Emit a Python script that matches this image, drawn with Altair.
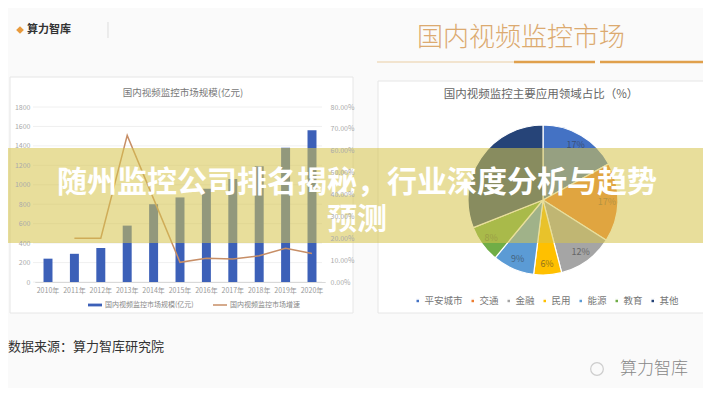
import altair as alt
import pandas as pd

# ---------------- data ----------------
years = ["2010年", "2011年", "2012年", "2013年", "2014年", "2015年",
         "2016年", "2017年", "2018年", "2019年", "2020年"]
market_size = [240, 290, 350, 580, 800, 870, 960, 1060, 1190, 1380, 1560]
growth_years = ["2011年", "2012年", "2013年", "2014年", "2015年",
                "2016年", "2017年", "2018年", "2019年", "2020年"]
growth_rate = [0.20, 0.20, 0.67, 0.38, 0.09, 0.108, 0.105, 0.12, 0.154, 0.13]
left_ticks = [0, 200, 400, 600, 800, 1000, 1200, 1400, 1600, 1800]
right_ticks = [0.0, 0.1, 0.2, 0.3, 0.4, 0.5, 0.6, 0.7, 0.8]
series_bar = "国内视频监控市场规模(亿元)"
series_line = "国内视频监控市场增速"

pie_cats = ["平安城市", "交通", "金融", "民用", "能源", "教育", "其他"]
pie_vals = [17, 17, 12, 6, 9, 8, 31]
pie_labels = ["17%", "17%", "12%", "6%", "9%", "8%", ""]
pie_colors = ["#4472c4", "#ed7d31", "#a5a5a5", "#ffc000", "#5b9bd5", "#70ad47", "#264478"]

logo_text = "算力智库"
header_title = "国内视频监控市场"
left_title = "国内视频监控市场规模(亿元)"
pie_title = "国内视频监控主要应用领域占比（%）"
banner_lines = ["随州监控公司排名揭秘，行业深度分析与趋势", "预测"]
source_text = "数据来源：算力智库研究院"
watermark_text = "算力智库"

# ---------------- layout ----------------
W, H = 695, 380
X_RANGE = [26.8, 317.2]
Y_RANGE = [274, 99]
one = pd.DataFrame({"k": [0]})


def box(x, x2, y, y2, **kw):
    return alt.Chart(one).mark_rect(**kw).encode(
        x=alt.value(x), x2=alt.value(x2), y=alt.value(y), y2=alt.value(y2))


def hline(x, x2, y, color, width):
    return alt.Chart(one).mark_rule(color=color, strokeWidth=width).encode(
        x=alt.value(x), x2=alt.value(x2), y=alt.value(y))


def label(txt, x, y, size, color, align="center", weight="normal", **kw):
    return alt.Chart(one).mark_text(text=txt, fontSize=size, color=color, align=align,
                                    baseline="middle", fontWeight=weight, **kw).encode(
        x=alt.value(x), y=alt.value(y))


# panels
panel_left = box(2, 345, 69, 305, fill="white", stroke="#e6e6e6", strokeWidth=1)
panel_right = box(370, 700, 73, 305, fill="white", stroke="#e6e6e6", strokeWidth=1)

# header
under_faint = hline(369, 506, 54, "#f2e4cf", 2)
under_o1 = hline(506, 587, 54, "#e0a04c", 2.5)
under_o2 = hline(592, 695, 54, "#e0a04c", 2.5)
logo_icon = alt.Chart(one).mark_point(shape="diamond", filled=True, color="#e89a3c",
                                      size=60, opacity=1).encode(
    x=alt.value(12), y=alt.value(22))
logo = label(logo_text, 19, 22, 11, "#333333", align="left", weight="bold")
sep = alt.Chart(one).mark_rule(color="#dddddd").encode(
    x=alt.value(100), y=alt.value(14), y2=alt.value(30))
title = label(header_title, 513, 30, 26, "#dcaa70", weight=300)

# left chart
bar_df = pd.DataFrame({"year": years, "size": market_size, "series": series_bar})
line_df = pd.DataFrame({"year": growth_years, "rate": growth_rate, "series": series_line})
grid_df = pd.DataFrame({"tick": left_ticks})

grid = alt.Chart(grid_df).mark_rule(color="#ececec", strokeWidth=0.8).encode(
    y=alt.Y("tick:Q", scale=alt.Scale(domain=[0, 1800], range=Y_RANGE, nice=False), axis=None),
    x=alt.value(25), x2=alt.value(314))

bars = alt.Chart(bar_df).mark_bar().encode(
    x=alt.X("year:N", sort=years,
            scale=alt.Scale(type="band", domain=years, range=X_RANGE,
                            paddingInner=0.66, paddingOuter=0.33),
            axis=alt.Axis(title=None, orient="bottom", offset=-106, labelFontSize=7,
                          labelColor="#999999", ticks=False, domainColor="#d9d9d9",
                          labelPadding=4, labelAngle=0, zindex=1)),
    y=alt.Y("size:Q", scale=alt.Scale(domain=[0, 1800], range=Y_RANGE, nice=False),
            axis=alt.Axis(title=None, orient="left", offset=-25, values=left_ticks,
                          format="d", labelFontSize=7, labelColor="#aaaaaa", ticks=False,
                          domain=False, grid=False, labelPadding=3, zindex=1)),
    color=alt.Color("series:N", scale=alt.Scale(domain=[series_bar], range=["#3c60b8"]),
                    legend=alt.Legend(orient="none", legendX=79, legendY=289, title=None,
                                      symbolType="M-1,-0.2H1V0.2H-1Z", symbolSize=196,
                                      labelFontSize=7, labelColor="#888888", labelOffset=2)),
)

line = alt.Chart(line_df).mark_line(strokeWidth=1.5).encode(
    x=alt.X("year:N", sort=years,
            scale=alt.Scale(type="point", domain=years, range=X_RANGE, padding=0.5),
            axis=None),
    y=alt.Y("rate:Q", scale=alt.Scale(domain=[0, 0.8], range=Y_RANGE, nice=False),
            axis=alt.Axis(title=None, orient="right", offset=-377, values=right_ticks,
                          format=".2%", labelFontSize=7, labelColor="#aaaaaa",
                          ticks=False, domain=False, grid=False, labelPadding=4, zindex=1)),
    stroke=alt.Stroke("series:N", scale=alt.Scale(domain=[series_line], range=["#c78e66"]),
                      legend=alt.Legend(orient="none", legendX=204, legendY=289, title=None,
                                        symbolType="stroke", symbolSize=196,
                                        symbolStrokeWidth=1.5, labelFontSize=7,
                                        labelColor="#888888", labelOffset=2)),
)

left_title_t = label(left_title, 175, 85, 9.5, "#777777")

# pie
pie_df = pd.DataFrame({"cat": pie_cats, "val": pie_vals, "lab": pie_labels,
                       "idx": list(range(len(pie_cats)))})
arcs = alt.Chart(pie_df).mark_arc(outerRadius=75, stroke="white", strokeWidth=1.2).encode(
    theta=alt.Theta("val:Q", stack=True),
    order=alt.Order("idx:Q"),
    color=alt.Color("cat:N", sort=pie_cats,
                    scale=alt.Scale(domain=pie_cats, range=pie_colors),
                    legend=alt.Legend(orient="none", direction="horizontal", legendX=405,
                                      legendY=288, title=None, symbolType="square",
                                      symbolSize=16, labelFontSize=9.5,
                                      labelColor="#777777", labelOffset=2,
                                      columnPadding=4)),
    x=alt.value(535), y=alt.value(192))
arc_labels = alt.Chart(pie_df).mark_text(radius=64, fontSize=9, color="#333333",
                                         opacity=0.55).encode(
    theta=alt.Theta("val:Q", stack=True),
    order=alt.Order("idx:Q"),
    text="lab:N",
    x=alt.value(535), y=alt.value(192))
pie_title_t = label(pie_title, 533, 87, 11.5, "#666666")

# banner
banner = box(0, W, 140, 235, fill="#d6c54c", opacity=0.56)
banner_text = alt.Chart(one).mark_text(fontSize=30, fontWeight="bold", color="white",
                                       align="center", baseline="middle",
                                       lineHeight=37).encode(
    x=alt.value(349), y=alt.value(175), text=alt.value(banner_lines))

# footer
source = label(source_text, 0, 339, 13, "#333333", align="left")
wm_icon = alt.Chart(one).mark_point(shape="circle", filled=False, color="#bbbbbb",
                                    size=160, strokeWidth=1.2).encode(
    x=alt.value(589), y=alt.value(361))
watermark = label(watermark_text, 646, 361, 17, "#888888", weight=300)

chart = alt.layer(
    panel_left, panel_right, under_faint, under_o1, under_o2, logo_icon, logo, sep, title,
    grid, bars, line, left_title_t,
    arcs, arc_labels, pie_title_t,
    banner, banner_text,
    source, wm_icon, watermark,
).resolve_scale(
    x="independent", y="independent", color="independent",
    stroke="independent", theta="independent"
).resolve_legend(
    color="independent", stroke="independent"
).properties(
    width=W, height=H, autosize="none", padding=0
).configure(
    font="Noto Sans CJK SC", background="#fafafa"
).configure_view(stroke=None)

chart.save("out.html", embed_options={"renderer": "svg", "actions": False})
